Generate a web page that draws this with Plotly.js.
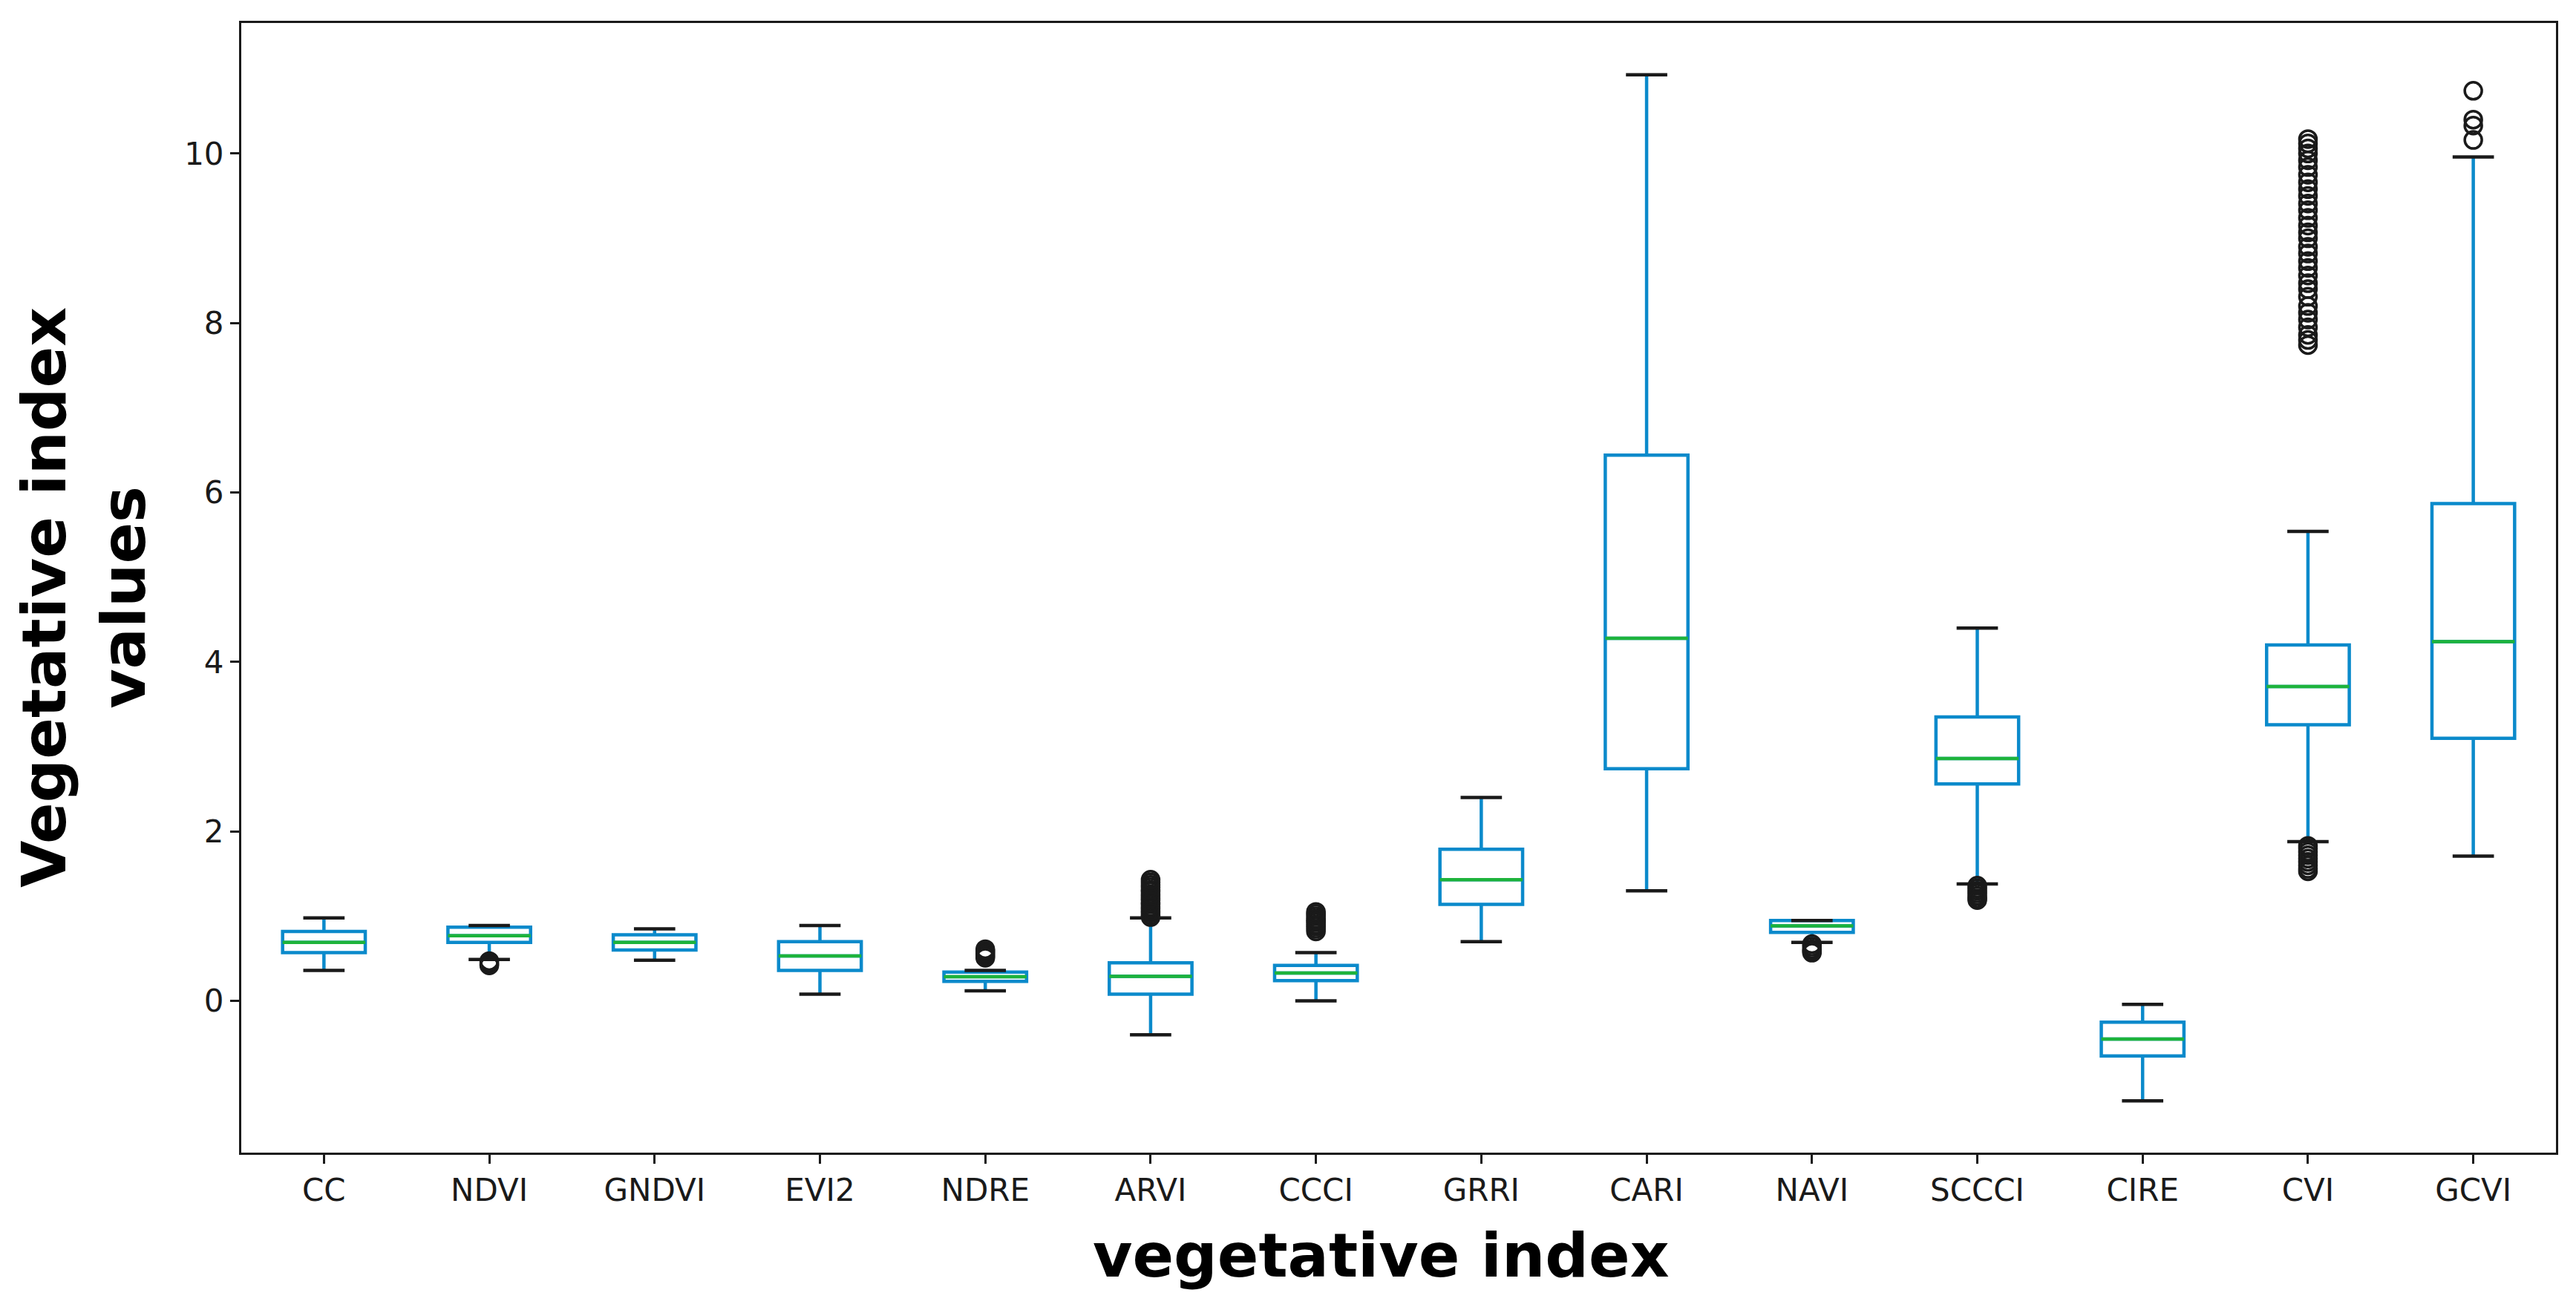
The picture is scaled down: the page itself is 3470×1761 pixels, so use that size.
<!DOCTYPE html>
<html>
<head>
<meta charset="utf-8">
<script src="https://cdn.plot.ly/plotly-3.0.1.min.js"></script>
<style>html,body{margin:0;padding:0;background:#fff;}#chart{width:3470px;height:1761px;}</style>
</head>
<body>
<div id="chart"></div>
<script>
// ---- data ----
const categories = ["CC","NDVI","GNDVI","EVI2","NDRE","ARVI","CCCI","GRRI","CARI","NAVI","SCCCI","CIRE","CVI","GCVI"];
const lowerWhisker = [0.36, 0.49, 0.48, 0.08, 0.12, -0.40, 0.00, 0.70, 1.30, 0.69, 1.38, -1.18, 1.88, 1.71];
const q1           = [0.57, 0.69, 0.60, 0.36, 0.23, 0.08, 0.24, 1.14, 2.74, 0.81, 2.56, -0.65, 3.26, 3.10];
const median       = [0.69, 0.77, 0.69, 0.53, 0.285, 0.29, 0.33, 1.43, 4.28, 0.885, 2.86, -0.45, 3.71, 4.24];
const q3           = [0.82, 0.87, 0.78, 0.70, 0.34, 0.45, 0.42, 1.79, 6.44, 0.95, 3.35, -0.25, 4.20, 5.87];
const upperWhisker = [0.98, 0.89, 0.85, 0.89, 0.36, 0.98, 0.57, 2.40, 10.93, 0.95, 4.40, -0.04, 5.54, 9.96];

const outliersNDVI  = [0.47, 0.45, 0.43, 0.42];
const outliersNDRE  = [0.51, 0.53, 0.55, 0.57, 0.59, 0.61];
const outliersARVI  = [0.99, 1.01, 1.04, 1.06, 1.09, 1.11, 1.14, 1.16, 1.19, 1.21, 1.24, 1.26, 1.29, 1.31, 1.34, 1.37, 1.40, 1.43];
const outliersCCCI  = [0.82, 0.85, 0.88, 0.90, 0.93, 0.95, 0.97, 1.00, 1.03, 1.05];
const outliersNAVI  = [0.67, 0.64, 0.61, 0.59, 0.57];
const outliersSCCCI = [1.36, 1.33, 1.30, 1.27, 1.24, 1.21, 1.19];
const outliersCVI   = [1.83, 1.80, 1.76, 1.72, 1.68, 1.64, 1.60, 1.56, 1.53,
                       7.74, 7.80, 7.86, 7.95, 8.04, 8.12, 8.20, 8.31, 8.40, 8.47, 8.56, 8.65, 8.73, 8.82, 8.90,
                       9.00, 9.07, 9.15, 9.24, 9.33, 9.41, 9.50, 9.58, 9.66, 9.75, 9.84, 9.92, 10.00, 10.06, 10.12, 10.17];
const outliersGCVI  = [10.16, 10.33, 10.40, 10.74];

const outlierSets = {NDVI: outliersNDVI, NDRE: outliersNDRE, ARVI: outliersARVI, CCCI: outliersCCCI,
                     NAVI: outliersNAVI, SCCCI: outliersSCCCI, CVI: outliersCVI, GCVI: outliersGCVI};

const yTicks = [0, 2, 4, 6, 8, 10];

// ---- styles ----
const BLUE = "#0b8acb";
const GREEN = "#1db33b";
const INK = "#1a1a1a";
const BOXW = 0.5;

const pos = categories.map((c, i) => i);

const boxTrace = {
  type: "box",
  x: pos,
  q1: q1, median: median, q3: q3,
  lowerfence: lowerWhisker, upperfence: upperWhisker,
  width: BOXW,
  whiskerwidth: 0,
  boxpoints: false,
  fillcolor: "rgba(0,0,0,0)",
  line: {color: BLUE, width: 4.5},
  hoverinfo: "skip",
  showlegend: false
};

function segs(vals, half) {
  const xs = [], ys = [];
  vals.forEach((v, i) => { xs.push(i - half, i + half, null); ys.push(v, v, null); });
  return {xs, ys};
}
const med = segs(median, BOXW / 2);
const medTrace = {type: "scatter", mode: "lines", x: med.xs, y: med.ys,
  line: {color: GREEN, width: 4.5}, hoverinfo: "skip", showlegend: false};

const capLo = segs(lowerWhisker, BOXW / 4);
const capHi = segs(upperWhisker, BOXW / 4);
const capTrace = {type: "scatter", mode: "lines",
  x: capLo.xs.concat(capHi.xs), y: capLo.ys.concat(capHi.ys),
  line: {color: INK, width: 4.5}, hoverinfo: "skip", showlegend: false};

const ox = [], oy = [];
categories.forEach((c, i) => {
  (outlierSets[c] || []).forEach(v => { ox.push(i); oy.push(v); });
});
const outTrace = {type: "scatter", mode: "markers", x: ox, y: oy,
  marker: {symbol: "circle-open", size: 23, color: INK, line: {color: INK, width: 3.5}},
  hoverinfo: "skip", showlegend: false};

const W = 3470, H = 1761;
const M = {l: 325, r: 27, t: 31, b: 208};
const pw = W - M.l - M.r, ph = H - M.t - M.b;
const px2x = p => (p - M.l) / pw;
const px2y = p => (H - M.b - p) / ph;

const layout = {
  width: W, height: H,
  margin: M,
  paper_bgcolor: "#ffffff",
  plot_bgcolor: "#ffffff",
  font: {family: "DejaVu Sans", color: INK, size: 42},
  showlegend: false,
  xaxis: {
    range: [-0.5, 13.5],
    tickmode: "array", tickvals: pos, ticktext: categories,
    ticks: "outside", ticklen: 12, tickwidth: 3, tickcolor: INK,
    showline: true, linecolor: INK, linewidth: 3, mirror: true,
    showgrid: false, zeroline: false,
    tickfont: {family: "DejaVu Sans", size: 42, color: INK}
  },
  yaxis: {
    range: [-1.79, 11.54],
    tickmode: "array", tickvals: yTicks, ticktext: yTicks.map(String),
    ticks: "outside", ticklen: 12, tickwidth: 3, tickcolor: INK,
    showline: true, linecolor: INK, linewidth: 3, mirror: true,
    showgrid: false, zeroline: false,
    tickfont: {family: "DejaVu Sans", size: 42, color: INK}
  },
  annotations: [
    {text: "<b>vegetative index</b>", xref: "paper", yref: "paper",
     x: px2x(1860), y: px2y(1692), xanchor: "center", yanchor: "middle",
     showarrow: false, font: {family: "DejaVu Sans", size: 82, color: "#000"}},
    {text: "<b>Vegetative index<br>values</b>", xref: "paper", yref: "paper",
     x: px2x(113), y: px2y(805), xanchor: "center", yanchor: "middle", textangle: -90,
     showarrow: false, font: {family: "DejaVu Sans", size: 82, color: "#000"}}
  ]
};

Plotly.newPlot("chart", [boxTrace, medTrace, capTrace, outTrace], layout, {staticPlot: true, displayModeBar: false});
</script>
</body>
</html>
